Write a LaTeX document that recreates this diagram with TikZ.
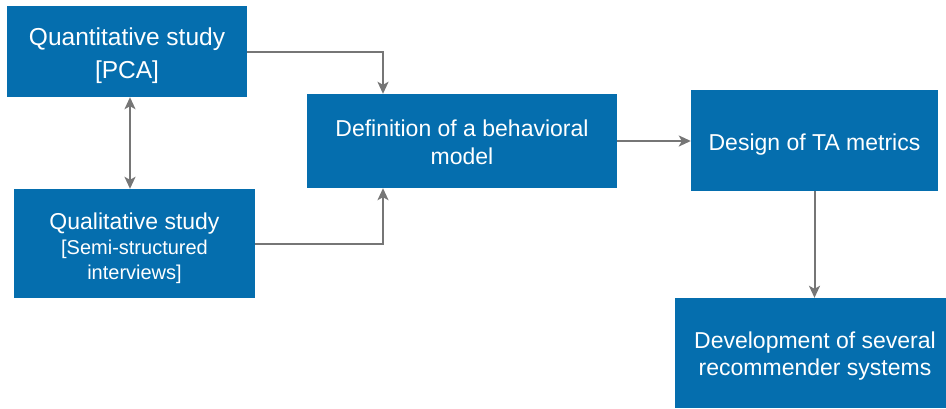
\documentclass[tikz,border=0pt]{standalone}
\usepackage{fontspec}
\setmainfont{Liberation Sans}
\usetikzlibrary{arrows.meta}
\definecolor{boxblue}{RGB}{5,110,174}
\definecolor{arrgray}{RGB}{118,118,118}
\tikzset{
  box/.style={fill=boxblue, draw=none, inner sep=0pt, anchor=center},
  txt/.style={text=white, align=center, inner sep=0pt, anchor=center},
  arr/.style={draw=arrgray, line width=2pt, -{Stealth[length=12pt,width=11pt,inset=3pt]}},
  arrb/.style={draw=arrgray, line width=2pt, {Stealth[length=12pt,width=11pt,inset=3pt]}-{Stealth[length=12pt,width=11pt,inset=3pt]}},
}
\begin{document}
\begin{tikzpicture}[x=1pt,y=-1pt]
\useasboundingbox (0,0) rectangle (946,408);
\node[box, minimum width=240pt, minimum height=91pt] (b1) at (127,51.5) {};
\node[box, minimum width=241pt, minimum height=109pt] (b2) at (134.5,243.5) {};
\node[box, minimum width=310pt, minimum height=94pt] (b3) at (462,141) {};
\node[box, minimum width=247pt, minimum height=101pt] (b4) at (814.5,140.5) {};
\node[box, minimum width=280pt, minimum height=110pt] (b5) at (815,353) {};
\node[txt, font=\fontsize{24.5}{33}\selectfont] (t1) at ([yshift=-4pt]b1.center)
  {Quantitative study\\{[PCA]}};
\node[txt, font=\fontsize{20}{25}\selectfont] (t2) at ([yshift=-5pt]b2.center)
  {{\fontsize{23}{25}\selectfont Qualitative study}\\{[Semi-structured}\\interviews]};
\node[txt, font=\fontsize{23}{28}\selectfont] (t3) at ([yshift=-1pt]b3.center)
  {Definition of a behavioral\\ model};
\node[txt, font=\fontsize{23}{28}\selectfont] (t4) at ([yshift=-4pt]b4.center)
  {Design of TA metrics};
\node[txt, font=\fontsize{23}{27}\selectfont] (t5) at ([yshift=-3pt]b5.center)
  {Development of several\\ recommender systems};
\coordinate (j1) at (383,0);
\draw[arr] (b1.east) -| (j1 |- b3.north);
\draw[arr] (b2.east) -| (j1 |- b3.south);
\draw[arrb] ([xshift=3pt]b1.south) -- ([xshift=-4.5pt]b2.north);
\draw[arr] (b3.east) -- (b4.west |- b3.east);
\draw[arr] (b4.south) -- (b4.south |- b5.north);
\end{tikzpicture}
\end{document}
